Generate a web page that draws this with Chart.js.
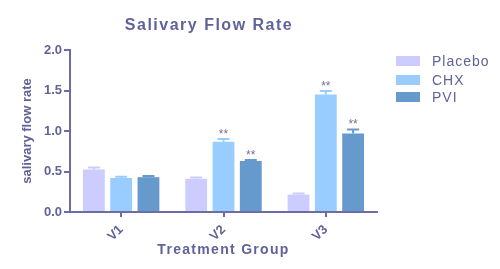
<!DOCTYPE html>
<html>
<head>
  <title>Salivary Flow Rate</title>
  <style>
    body { margin: 0; background: #fff; }
    #chart { display: block; }
  </style>
  <script src="https://cdn.jsdelivr.net/npm/chart.js"></script>
</head>
<body>
  <canvas id="chart" width="500" height="269"></canvas>
  <script>
    // data
    const groups = ['V1', 'V2', 'V3'];
    const seriesNames = ['Placebo', 'CHX', 'PVI'];
    const placebo = [0.525, 0.41, 0.215];
    const chx = [0.42, 0.866, 1.45];
    const pvi = [0.43, 0.63, 0.97];
    const placeboErr = [0.025, 0.015, 0.012];
    const chxErr = [0.015, 0.035, 0.045];
    const pviErr = [0.015, 0.012, 0.05];
    const chxSig = ['', '**', '**'];
    const pviSig = ['', '**', '**'];
    const yTicks = [0, 0.5, 1.0, 1.5, 2.0];

    const ink = '#62629a';
    const axisColor = '#6c6ca6';
    const colors = ['#ccccff', '#99ccff', '#6699cc'];

    const extras = {
      id: 'extras',
      afterDatasetsDraw(chart) {
        const ctx = chart.ctx;
        const y = chart.scales.y;
        ctx.save();
        chart.data.datasets.forEach((ds, i) => {
          const meta = chart.getDatasetMeta(i);
          meta.data.forEach((bar, j) => {
            const top = y.getPixelForValue(ds.data[j] + ds.err[j]);
            ctx.strokeStyle = ds.backgroundColor;
            ctx.lineWidth = 2;
            ctx.beginPath();
            ctx.moveTo(bar.x, bar.y);
            ctx.lineTo(bar.x, top);
            ctx.moveTo(bar.x - 6, top);
            ctx.lineTo(bar.x + 6, top);
            ctx.stroke();
            if (ds.sig && ds.sig[j]) {
              ctx.fillStyle = '#72729a';
              ctx.font = '12px "Liberation Sans", Arial, sans-serif';
              ctx.textAlign = 'center';
              ctx.textBaseline = 'alphabetic';
              ctx.fillText(ds.sig[j], bar.x, top - 1);
            }
          });
        });
        ctx.restore();
      },
      afterDraw(chart) {
        const ctx = chart.ctx;
        const area = chart.chartArea;
        ctx.save();
        ctx.fillStyle = ink;
        ctx.textBaseline = 'alphabetic';
        ctx.textAlign = 'center';
        // title
        ctx.letterSpacing = '1.5px';
        ctx.font = 'bold 16px "Liberation Sans", Arial, sans-serif';
        ctx.fillText('Salivary Flow Rate', 209, 30);
        // x axis title
        ctx.letterSpacing = '1.3px';
        ctx.font = 'bold 14px "Liberation Sans", Arial, sans-serif';
        ctx.fillText('Treatment Group', (area.left + area.right) / 2, 254);
        // legend
        ctx.letterSpacing = '1px';
        ctx.font = '14px "Liberation Sans", Arial, sans-serif';
        ctx.textAlign = 'left';
        ctx.textBaseline = 'middle';
        const rows = [61, 80, 97];
        chart.data.datasets.forEach((ds, i) => {
          ctx.fillStyle = ds.backgroundColor;
          ctx.fillRect(396, rows[i] - 5, 24, 10);
          ctx.fillStyle = ink;
          ctx.fillText(ds.label, 432, rows[i] + 1);
        });
        ctx.restore();
      }
    };

    new Chart(document.getElementById('chart'), {
      type: 'bar',
      data: {
        labels: groups,
        datasets: [
          { label: seriesNames[0], data: placebo, err: placeboErr, backgroundColor: colors[0] },
          { label: seriesNames[1], data: chx, err: chxErr, sig: chxSig, backgroundColor: colors[1] },
          { label: seriesNames[2], data: pvi, err: pviErr, sig: pviSig, backgroundColor: colors[2] }
        ]
      },
      options: {
        responsive: false,
        animation: false,
        layout: { padding: { left: 0, top: 50, right: 123, bottom: 0 } },
        datasets: { bar: { categoryPercentage: 0.8, barPercentage: 0.8 } },
        plugins: { legend: { display: false }, tooltip: { enabled: false } },
        scales: {
          x: {
            afterFit(s) { s.height = 57; },
            grid: { offset: false, drawOnChartArea: false, drawTicks: true, tickLength: 5, color: axisColor, lineWidth: 2 },
            border: { color: axisColor, width: 2 },
            ticks: {
              color: ink, minRotation: 45, maxRotation: 45, padding: 5,
              font: { family: '"Liberation Sans", Arial, sans-serif', size: 13, weight: 'bold' }
            }
          },
          y: {
            min: 0, max: 2,
            afterFit(s) { s.width = 70; },
            afterBuildTicks(s) { s.ticks = yTicks.map(v => ({ value: v })); },
            grid: { drawOnChartArea: false, drawTicks: true, tickLength: 6, color: axisColor, lineWidth: 2 },
            border: { color: axisColor, width: 2 },
            ticks: {
              color: ink, padding: 2,
              callback: v => v.toFixed(1),
              font: { family: '"Liberation Sans", Arial, sans-serif', size: 13, weight: 'bold' }
            },
            title: {
              display: true, text: 'salivary flow rate', color: ink,
              padding: { top: 20, bottom: 0 },
              font: { family: '"Liberation Sans", Arial, sans-serif', size: 13, weight: 'bold' }
            }
          }
        }
      },
      plugins: [extras]
    });
  </script>
</body>
</html>
